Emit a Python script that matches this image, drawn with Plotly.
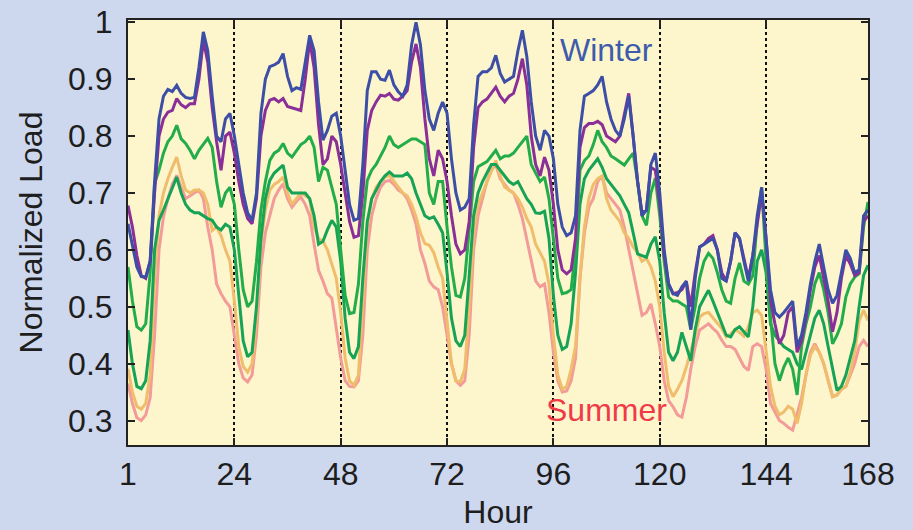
import plotly.graph_objects as go

hours = list(range(1, 169))

winter_blue = [
    0.646,0.61,0.57,0.553,0.552,0.58,0.72,0.83,0.87,0.882,0.878,0.889,0.875,0.868,0.866,0.868,0.92,0.983,0.95,0.87,0.80,0.79,0.83,0.84,
    0.80,0.75,0.70,0.665,0.652,0.70,0.84,0.90,0.922,0.925,0.93,0.945,0.905,0.88,0.885,0.882,0.93,0.977,0.95,0.86,0.793,0.81,0.835,0.84,
    0.80,0.74,0.68,0.652,0.655,0.75,0.88,0.913,0.913,0.90,0.898,0.916,0.89,0.878,0.87,0.89,0.96,1.0,0.96,0.88,0.83,0.81,0.84,0.86,
    0.84,0.76,0.70,0.67,0.675,0.69,0.82,0.905,0.913,0.913,0.92,0.942,0.91,0.895,0.90,0.905,0.95,0.986,0.94,0.86,0.80,0.775,0.81,0.80,
    0.76,0.68,0.64,0.625,0.63,0.66,0.81,0.87,0.875,0.88,0.89,0.905,0.86,0.83,0.81,0.80,0.83,0.87,0.80,0.72,0.66,0.67,0.75,0.77,
    0.70,0.60,0.54,0.523,0.52,0.535,0.545,0.46,0.55,0.605,0.61,0.615,0.62,0.60,0.55,0.545,0.58,0.63,0.62,0.58,0.545,0.59,0.66,0.71,
    0.62,0.53,0.49,0.482,0.49,0.50,0.51,0.43,0.45,0.49,0.54,0.58,0.61,0.57,0.53,0.506,0.52,0.56,0.60,0.585,0.56,0.565,0.66,0.67,
]

winter_purple = [
    0.678,0.64,0.59,0.555,0.55,0.58,0.70,0.80,0.83,0.842,0.845,0.866,0.855,0.85,0.857,0.857,0.90,0.968,0.93,0.85,0.79,0.74,0.80,0.807,
    0.77,0.72,0.68,0.655,0.646,0.69,0.80,0.845,0.863,0.866,0.86,0.866,0.852,0.85,0.847,0.845,0.90,0.968,0.92,0.82,0.75,0.76,0.80,0.79,
    0.75,0.70,0.65,0.622,0.625,0.70,0.81,0.845,0.86,0.872,0.87,0.875,0.865,0.863,0.87,0.88,0.93,0.962,0.92,0.83,0.76,0.73,0.775,0.76,
    0.72,0.66,0.61,0.593,0.60,0.65,0.78,0.85,0.86,0.865,0.875,0.886,0.87,0.86,0.87,0.875,0.90,0.936,0.89,0.80,0.75,0.73,0.763,0.74,
    0.68,0.60,0.565,0.558,0.565,0.62,0.78,0.815,0.822,0.822,0.826,0.82,0.80,0.795,0.79,0.80,0.84,0.875,0.80,0.72,0.665,0.67,0.745,0.74,
    0.68,0.59,0.54,0.523,0.525,0.53,0.545,0.50,0.56,0.605,0.61,0.62,0.625,0.60,0.56,0.545,0.58,0.63,0.62,0.585,0.55,0.59,0.65,0.70,
    0.62,0.51,0.47,0.435,0.45,0.49,0.50,0.42,0.44,0.48,0.53,0.57,0.59,0.55,0.51,0.456,0.49,0.55,0.59,0.575,0.555,0.56,0.65,0.66,
]

green_upper = [
    0.57,0.51,0.465,0.459,0.47,0.56,0.716,0.74,0.77,0.79,0.80,0.819,0.795,0.787,0.775,0.76,0.775,0.785,0.796,0.78,0.72,0.675,0.70,0.71,
    0.68,0.60,0.53,0.50,0.51,0.58,0.67,0.72,0.757,0.77,0.775,0.787,0.77,0.763,0.775,0.785,0.79,0.80,0.78,0.72,0.745,0.74,0.71,0.68,
    0.60,0.52,0.488,0.49,0.54,0.65,0.722,0.74,0.75,0.765,0.78,0.80,0.785,0.78,0.785,0.79,0.795,0.795,0.79,0.785,0.70,0.68,0.72,0.72,
    0.64,0.57,0.52,0.517,0.55,0.64,0.72,0.746,0.75,0.755,0.765,0.775,0.76,0.765,0.765,0.77,0.78,0.79,0.80,0.75,0.735,0.72,0.728,0.69,
    0.62,0.55,0.523,0.525,0.53,0.60,0.74,0.757,0.765,0.785,0.81,0.79,0.78,0.765,0.76,0.755,0.749,0.76,0.77,0.72,0.66,0.643,0.70,0.726,
    0.66,0.58,0.517,0.51,0.51,0.505,0.50,0.46,0.50,0.55,0.58,0.594,0.585,0.56,0.53,0.51,0.506,0.55,0.577,0.545,0.54,0.555,0.65,0.71,
    0.58,0.48,0.40,0.37,0.394,0.41,0.39,0.345,0.43,0.47,0.50,0.54,0.56,0.53,0.49,0.435,0.45,0.47,0.517,0.54,0.552,0.558,0.64,0.684,
]

green_lower = [
    0.459,0.40,0.36,0.356,0.37,0.44,0.60,0.652,0.67,0.69,0.71,0.728,0.70,0.68,0.67,0.665,0.665,0.66,0.655,0.652,0.64,0.635,0.645,0.64,
    0.60,0.52,0.44,0.412,0.42,0.50,0.62,0.69,0.722,0.735,0.742,0.749,0.71,0.70,0.70,0.70,0.70,0.69,0.66,0.61,0.615,0.635,0.652,0.64,
    0.58,0.48,0.42,0.409,0.43,0.55,0.65,0.69,0.705,0.72,0.73,0.737,0.73,0.73,0.73,0.735,0.725,0.70,0.68,0.66,0.655,0.658,0.645,0.63,
    0.56,0.48,0.44,0.43,0.45,0.55,0.66,0.70,0.72,0.735,0.75,0.75,0.74,0.73,0.72,0.715,0.72,0.705,0.69,0.68,0.665,0.664,0.668,0.62,
    0.52,0.45,0.425,0.43,0.47,0.56,0.68,0.725,0.74,0.75,0.76,0.745,0.725,0.715,0.705,0.695,0.68,0.665,0.63,0.593,0.59,0.587,0.61,0.623,
    0.58,0.49,0.42,0.405,0.42,0.455,0.43,0.405,0.46,0.50,0.515,0.529,0.51,0.49,0.47,0.45,0.447,0.46,0.465,0.455,0.447,0.50,0.58,0.60,
    0.56,0.47,0.45,0.44,0.43,0.425,0.42,0.40,0.39,0.42,0.45,0.48,0.494,0.47,0.43,0.39,0.353,0.36,0.38,0.41,0.44,0.50,0.555,0.573,
]

summer_orange = [
    0.391,0.35,0.325,0.32,0.33,0.38,0.55,0.66,0.70,0.725,0.745,0.763,0.73,0.705,0.70,0.705,0.705,0.70,0.68,0.634,0.64,0.625,0.60,0.58,
    0.51,0.43,0.395,0.385,0.40,0.48,0.61,0.67,0.705,0.715,0.72,0.728,0.70,0.68,0.69,0.70,0.695,0.69,0.64,0.62,0.615,0.60,0.575,0.55,
    0.49,0.41,0.37,0.362,0.38,0.50,0.64,0.69,0.71,0.72,0.728,0.731,0.72,0.71,0.70,0.695,0.68,0.658,0.63,0.611,0.608,0.595,0.57,0.55,
    0.48,0.40,0.37,0.368,0.39,0.50,0.63,0.68,0.70,0.72,0.74,0.757,0.73,0.71,0.705,0.70,0.69,0.675,0.655,0.64,0.61,0.595,0.58,0.54,
    0.45,0.38,0.355,0.36,0.39,0.43,0.55,0.64,0.69,0.715,0.725,0.73,0.69,0.67,0.66,0.65,0.63,0.62,0.605,0.595,0.58,0.585,0.57,0.545,
    0.50,0.42,0.36,0.342,0.355,0.37,0.394,0.42,0.45,0.482,0.488,0.49,0.48,0.47,0.462,0.447,0.452,0.46,0.455,0.448,0.465,0.49,0.494,0.485,
    0.42,0.36,0.325,0.31,0.315,0.325,0.32,0.295,0.33,0.38,0.415,0.43,0.42,0.40,0.37,0.342,0.345,0.355,0.36,0.385,0.42,0.475,0.494,0.476,
]

summer_pink = [
    0.365,0.33,0.305,0.30,0.31,0.34,0.45,0.60,0.658,0.69,0.715,0.731,0.71,0.69,0.695,0.70,0.705,0.69,0.64,0.60,0.54,0.523,0.51,0.50,
    0.45,0.40,0.375,0.368,0.38,0.45,0.57,0.63,0.66,0.69,0.705,0.716,0.69,0.675,0.685,0.693,0.68,0.66,0.61,0.564,0.545,0.523,0.515,0.46,
    0.41,0.37,0.36,0.359,0.37,0.45,0.60,0.66,0.69,0.71,0.72,0.722,0.715,0.705,0.70,0.69,0.67,0.646,0.60,0.576,0.545,0.535,0.53,0.50,
    0.45,0.40,0.37,0.362,0.37,0.45,0.60,0.66,0.69,0.72,0.74,0.75,0.725,0.715,0.705,0.70,0.68,0.655,0.62,0.58,0.545,0.535,0.54,0.49,
    0.42,0.37,0.35,0.352,0.37,0.41,0.55,0.63,0.675,0.69,0.72,0.73,0.70,0.69,0.68,0.67,0.64,0.60,0.56,0.52,0.485,0.49,0.505,0.47,
    0.43,0.37,0.335,0.324,0.31,0.306,0.34,0.39,0.43,0.459,0.465,0.47,0.462,0.455,0.441,0.43,0.43,0.425,0.41,0.395,0.388,0.43,0.435,0.43,
    0.39,0.33,0.315,0.30,0.295,0.288,0.283,0.31,0.34,0.38,0.42,0.435,0.42,0.40,0.37,0.342,0.345,0.355,0.36,0.38,0.40,0.43,0.441,0.43,
]

tick_vals = [1, 25, 49, 73, 97, 121, 145, 168]
tick_text = ["1", "24", "48", "72", "96", "120", "144", "168"]
y_ticks = [0.3, 0.4, 0.5, 0.6, 0.7, 0.8, 0.9, 1.0]
y_text = ["0.3", "0.4", "0.5", "0.6", "0.7", "0.8", "0.9", "1"]

series = [
    (summer_pink, "#f39b98"),
    (summer_orange, "#efbd6b"),
    (green_lower, "#16a356"),
    (green_upper, "#22ad4a"),
    (winter_purple, "#8a2f97"),
    (winter_blue, "#3c4ea6"),
]

fig = go.Figure()
for vals, col in series:
    fig.add_trace(go.Scatter(x=hours, y=vals, mode="lines",
                             line=dict(color=col, width=3), showlegend=False))

FONT = "Liberation Sans, Arial, sans-serif"

fig.add_annotation(x=109, y=0.951, text="Winter", showarrow=False,
                   font=dict(family=FONT, size=32, color="#3d5bab"))
fig.add_annotation(x=109, y=0.318, text="Summer", showarrow=False,
                   font=dict(family=FONT, size=32, color="#f03a48"))

fig.update_layout(
    width=913, height=530,
    margin=dict(l=128, r=45, t=20, b=85),
    paper_bgcolor="#cdd8ee",
    plot_bgcolor="#fdf6cd",
    font=dict(family=FONT, size=32, color="#1e1e1e"),
)
fig.update_xaxes(
    range=[1, 168], tickvals=tick_vals, ticktext=tick_text,
    showgrid=True, gridcolor="#111111", gridwidth=1.6, griddash="dot",
    showline=True, linecolor="#222222", linewidth=2, mirror="ticks",
    ticks="inside", ticklen=7, tickwidth=1.5, tickcolor="#222222",
    zeroline=False, automargin=False,
    title=dict(text="Hour", font=dict(size=32), standoff=18),
)
fig.update_yaxes(
    range=[0.257, 1.004], tickvals=y_ticks, ticktext=y_text,
    showgrid=False,
    showline=True, linecolor="#222222", linewidth=2, mirror="ticks",
    ticks="inside", ticklen=7, tickwidth=1.5, tickcolor="#222222",
    zeroline=False, ticklabelstandoff=7, automargin=False,
    title=dict(text="Normalized Load", font=dict(size=32), standoff=16),
)

fig.write_html("out.html")
